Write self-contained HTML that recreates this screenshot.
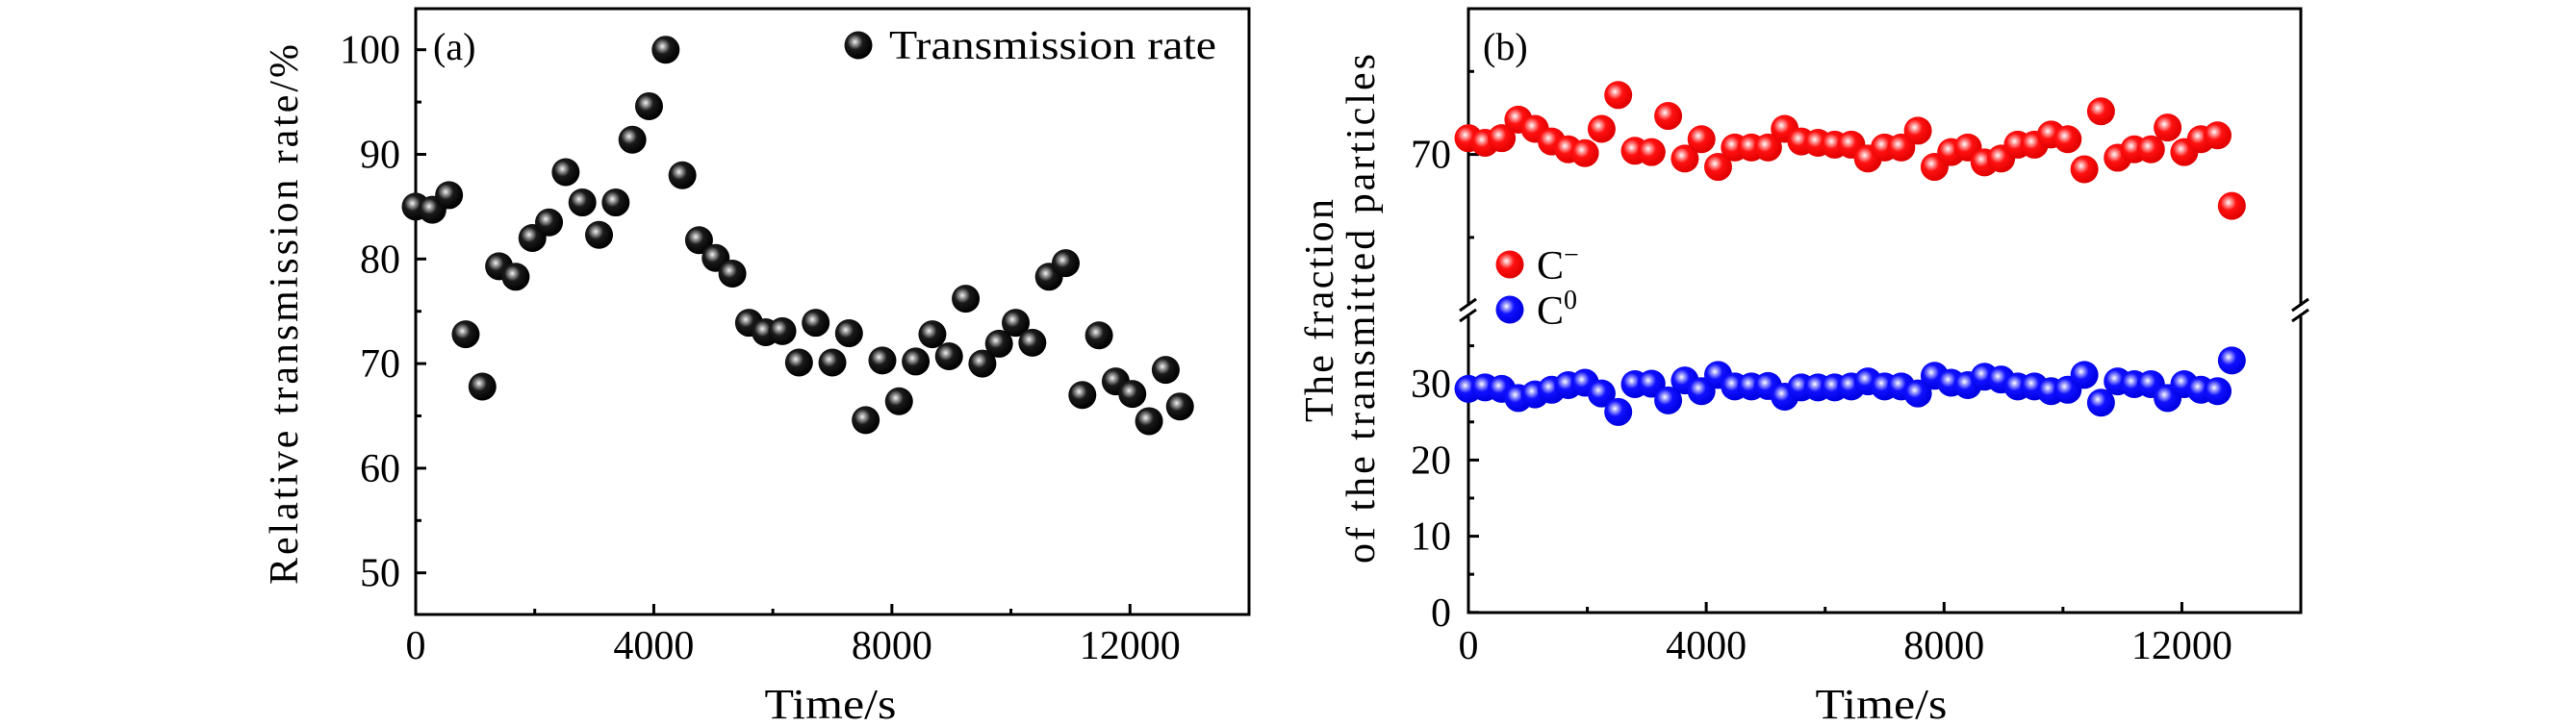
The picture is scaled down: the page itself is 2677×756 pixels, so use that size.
<!DOCTYPE html>
<html><head><meta charset="utf-8"><style>
body{margin:0;background:#fff;}
svg{display:block;font-family:"Liberation Serif",serif;}
</style></head><body>
<svg id="chart" width="2677" height="756" viewBox="0 0 2677 756" xmlns="http://www.w3.org/2000/svg">
<defs>
<radialGradient id="gk" cx="0.38" cy="0.38" r="0.62"><stop offset="0" stop-color="#f4f4f4"/><stop offset="0.18" stop-color="#9a9a9a"/><stop offset="0.45" stop-color="#1a1a1a"/><stop offset="1" stop-color="#000"/></radialGradient>
<radialGradient id="gr" cx="0.38" cy="0.38" r="0.62"><stop offset="0" stop-color="#fff"/><stop offset="0.18" stop-color="#ff9a9a"/><stop offset="0.45" stop-color="#ff1010"/><stop offset="1" stop-color="#e00000"/></radialGradient>
<radialGradient id="gb" cx="0.38" cy="0.38" r="0.62"><stop offset="0" stop-color="#fff"/><stop offset="0.18" stop-color="#9a9aff"/><stop offset="0.45" stop-color="#1010ff"/><stop offset="1" stop-color="#0000e0"/></radialGradient>
</defs>
</svg>
<script>
const times=[0,280,560,840,1120,1400,1680,1960,2240,2520,2800,3080,3360,3640,3920,4200,4480,4760,5040,5320,5600,5880,6160,6440,6720,7000,7280,7560,7840,8120,8400,8680,8960,9240,9520,9800,10080,10360,10640,10920,11200,11480,11760,12040,12320,12600,12840];
const rateValues=[85.0,84.7,86.1,72.8,67.8,79.3,78.3,82.0,83.5,88.3,85.4,82.3,85.4,91.4,94.6,100,88.0,81.8,80.1,78.6,73.9,73.0,73.1,70.1,73.9,70.1,72.9,64.6,70.3,66.4,70.2,72.8,70.7,76.2,70.0,71.9,73.9,72.0,78.3,79.6,67.0,72.7,68.3,67.1,64.5,69.4,65.9];
const cMinusValues=[70.98,70.70,70.98,72.10,71.54,70.78,70.31,70.08,71.54,73.58,70.22,70.14,72.32,69.75,70.92,69.25,70.42,70.42,70.42,71.54,70.78,70.70,70.59,70.59,69.75,70.42,70.42,71.43,69.25,70.14,70.42,69.52,69.75,70.59,70.59,71.20,70.92,69.11,72.60,69.80,70.31,70.31,71.62,70.14,70.92,71.15,66.90];
const cZeroValues=[29.35,29.54,29.35,28.14,28.62,29.23,29.84,30.15,28.74,26.31,29.96,30.02,27.83,30.45,29.05,31.18,29.66,29.66,29.72,28.32,29.54,29.54,29.54,29.66,30.33,29.66,29.66,28.74,31.06,30.15,29.84,30.94,30.57,29.66,29.66,29.05,29.23,31.18,27.53,30.33,29.96,29.96,28.14,29.96,29.23,29.05,33.07];
const xTicks=[0,4000,8000,12000];
const xMinor=[2000,6000,10000];
const aYTicks=[50,60,70,80,90,100];
const aYMinor=[55,65,75,85,95];
const bLowTicks=[0,10,20,30];
const bLowMinor=[5,15,25,35];
const bUpTicks=[70];
const bUpMinor=[65,75];

const NS="http://www.w3.org/2000/svg";
const svg=document.getElementById('chart');
function mk(tag,attrs,parent){const e=document.createElementNS(NS,tag);for(const k in attrs)e.setAttribute(k,attrs[k]);(parent||svg).appendChild(e);return e;}
function txt(s,attrs,parent){const e=mk('text',attrs,parent);e.textContent=s;return e;}
const TF=42;

// Panel A
const A={l:432,r:1298,t:9,b:639};
const axA=t=>A.l+(t/14000)*(A.r-A.l);
const ayA=v=>595.7-(v-50)*10.88;
const gA=mk('g',{});


const frA=mk('rect',{x:A.l,y:A.t,width:A.r-A.l,height:A.b-A.t,fill:'none',stroke:'#000','stroke-width':3},gA);


xTicks.forEach(t=>{const x=axA(t);mk('line',{x1:x,x2:x,y1:A.b,y2:A.b-11,stroke:'#000','stroke-width':3},gA);
 const l=txt(String(t),{x:x,y:685,'font-size':TF,'text-anchor':'middle'},gA);
 
 });
xMinor.forEach(t=>{const x=axA(t);mk('line',{x1:x,x2:x,y1:A.b,y2:A.b-6,stroke:'#000','stroke-width':3},gA);});
aYTicks.forEach(v=>{const y=ayA(v);mk('line',{x1:A.l,x2:A.l+11,y1:y,y2:y,stroke:'#000','stroke-width':3},gA);
 const l=txt(String(v),{x:416,y:y+14,'font-size':TF,'text-anchor':'end'},gA);
 
 });
aYMinor.forEach(v=>{const y=ayA(v);mk('line',{x1:A.l,x2:A.l+6,y1:y,y2:y,stroke:'#000','stroke-width':3},gA);});
times.forEach((t,i)=>{const c=mk('circle',{cx:axA(t),cy:ayA(rateValues[i]),r:14.5,fill:'url(#gk)'},gA);
 
 });
const xtA=txt('Time/s',{x:863,y:747,'font-size':44,'text-anchor':'middle',textLength:137,lengthAdjust:'spacingAndGlyphs'},gA);


const ytA=txt('Relative transmission rate/%',{x:0,y:0,'font-size':42,'text-anchor':'middle',textLength:562,lengthAdjust:'spacing',transform:'translate(309,327) rotate(-90)'},gA);


const pa=txt('(a)',{x:450,y:62,'font-size':40},gA);


const lgA=mk('g',{},gA);


mk('circle',{cx:892,cy:47,r:14.5,fill:'url(#gk)'},lgA);
txt('Transmission rate',{x:924,y:61,'font-size':42,textLength:340,lengthAdjust:'spacingAndGlyphs'},lgA);

// Panel B
const B={l:1526,r:2391,t:9,b:637,brk:323};
const axB=t=>B.l+(t/14000)*(B.r-B.l);
const ayLow=v=>636.8-v*7.92;
const ayUp=v=>160.6-(v-70)*17.26;
const gB=mk('g',{});


const frB=mk('path',{d:`M${B.l} ${B.brk-5}V${B.t}H${B.r}V${B.brk-5}M${B.r} ${B.brk+6}V${B.b}H${B.l}V${B.brk+6}`,fill:'none',stroke:'#000','stroke-width':3},gB);


[B.l,B.r].forEach(x=>{const br=mk('g',{},gB);
 
 
 mk('line',{x1:x-9,x2:x+8,y1:B.brk,y2:B.brk-12,stroke:'#000','stroke-width':3},br);
 mk('line',{x1:x-9,x2:x+8,y1:B.brk+11,y2:B.brk-1,stroke:'#000','stroke-width':3},br);});
xTicks.forEach(t=>{const x=axB(t);mk('line',{x1:x,x2:x,y1:B.b,y2:B.b-11,stroke:'#000','stroke-width':3},gB);
 const l=txt(String(t),{x:x,y:685,'font-size':TF,'text-anchor':'middle'},gB);
 
 });
xMinor.forEach(t=>{const x=axB(t);mk('line',{x1:x,x2:x,y1:B.b,y2:B.b-6,stroke:'#000','stroke-width':3},gB);});
bLowTicks.forEach(v=>{const y=ayLow(v);mk('line',{x1:B.l,x2:B.l+11,y1:y,y2:y,stroke:'#000','stroke-width':3},gB);
 const l=txt(String(v),{x:1508,y:y+14,'font-size':TF,'text-anchor':'end'},gB);
 
 });
bLowMinor.forEach(v=>{const y=ayLow(v);mk('line',{x1:B.l,x2:B.l+6,y1:y,y2:y,stroke:'#000','stroke-width':3},gB);});
bUpTicks.forEach(v=>{const y=ayUp(v);mk('line',{x1:B.l,x2:B.l+11,y1:y,y2:y,stroke:'#000','stroke-width':3},gB);
 const l=txt(String(v),{x:1508,y:y+14,'font-size':TF,'text-anchor':'end'},gB);
 
 });
bUpMinor.forEach(v=>{const y=ayUp(v);mk('line',{x1:B.l,x2:B.l+6,y1:y,y2:y,stroke:'#000','stroke-width':3},gB);});
times.forEach((t,i)=>{const c=mk('circle',{cx:axB(t),cy:ayUp(cMinusValues[i]),r:14.5,fill:'url(#gr)'},gB);
 
 });
times.forEach((t,i)=>{const c=mk('circle',{cx:axB(t),cy:ayLow(cZeroValues[i]),r:14.5,fill:'url(#gb)'},gB);
 
 });
const xtB=txt('Time/s',{x:1955,y:747,'font-size':44,'text-anchor':'middle',textLength:137,lengthAdjust:'spacingAndGlyphs'},gB);


const yt1=txt('The fraction',{x:0,y:0,'font-size':42,'text-anchor':'middle',textLength:232,lengthAdjust:'spacing',transform:'translate(1385,323) rotate(-90)'},gB);


const yt2=txt('of the transmitted particles',{x:0,y:0,'font-size':42,'text-anchor':'middle',textLength:530,lengthAdjust:'spacing',transform:'translate(1428,321) rotate(-90)'},gB);


const pb=txt('(b)',{x:1541,y:62,'font-size':40},gB);


const lg1=mk('g',{},gB);


mk('circle',{cx:1569,cy:275,r:14.5,fill:'url(#gr)'},lg1);
const t1=txt('C',{x:1597,y:290,'font-size':42},lg1);
const s1=mk('tspan',{dy:-16,'font-size':28},t1);s1.textContent='−';
const lg2=mk('g',{},gB);


mk('circle',{cx:1569,cy:322,r:14.5,fill:'url(#gb)'},lg2);
const t2=txt('C',{x:1597,y:337,'font-size':42},lg2);
const s2=mk('tspan',{dy:-16,'font-size':28},t2);s2.textContent='0';
</script>
</body></html>
